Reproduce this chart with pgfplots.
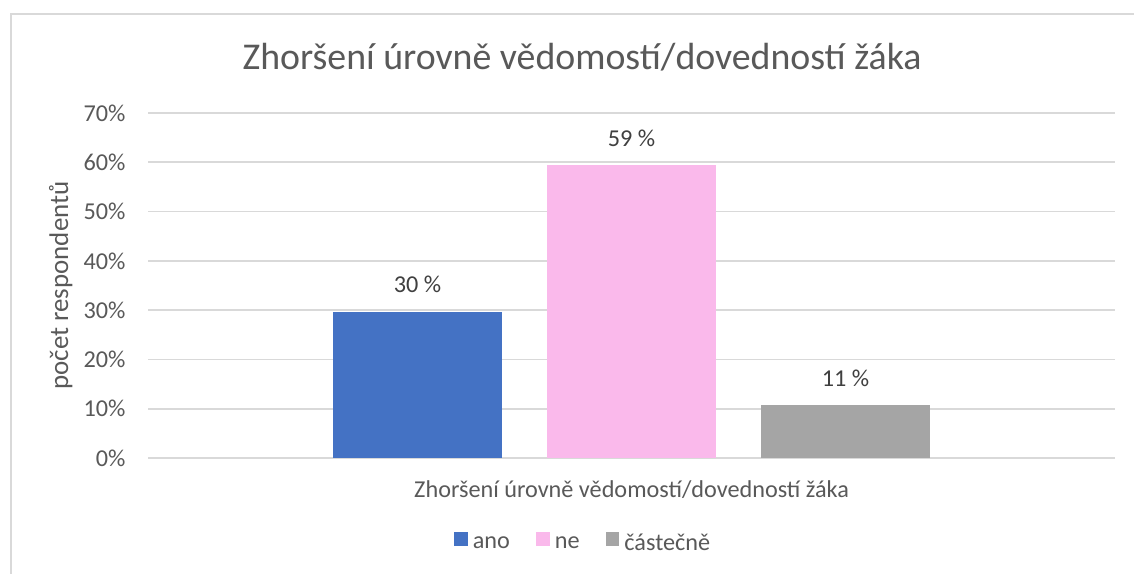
\documentclass[border=0pt]{standalone}
\usepackage{fontspec}
\setmainfont{Carlito}
\usepackage{pgfplots}
\pgfplotsset{compat=1.18}
\definecolor{cblue}{HTML}{4472C4}
\definecolor{cpink}{HTML}{FAB9EB}
\definecolor{cgray}{HTML}{A5A5A5}
\definecolor{gridc}{HTML}{D9D9D9}
\definecolor{txt}{HTML}{595959}
\definecolor{lbl}{HTML}{404040}
\begin{document}
\begin{tikzpicture}
\useasboundingbox (0,0) rectangle (437.7pt,221.2pt);
\fill[white] (0,0) rectangle (437.7pt,221.2pt);
\draw[gridc, line width=0.6pt] (4.25pt,-2pt) -- (4.25pt,215.8pt) -- (440pt,215.8pt);
\begin{axis}[
  at={(57.13pt,44.39pt)}, anchor=south west,
  scale only axis, width=373.3pt, height=133.2pt,
  /pgf/number format/assume math mode=true,
  ybar, bar width=0.79,
  xmin=-2.2595, xmax=2.2595, ymin=0, ymax=70,
  ytick={0,10,...,70},
  yticklabel={\pgfmathprintnumber{\tick}\%},
  xtick={0}, xticklabels={Zhoršení úrovně vědomostí/dovedností žáka},
  major tick length=0pt,
  axis line style={draw=none},
  ymajorgrids, grid style={gridc, line width=0.7pt},
  ticklabel style={font=\fontsize{9.35}{11}\selectfont, text=txt, inner sep=0pt},
  yticklabel style={anchor=east, xshift=-8.5pt},
  xticklabel style={anchor=base, yshift=-15.4pt},
  ylabel={počet respondentů},
  every axis y label/.style={at={(axis description cs:-0.0827,0.5)}, rotate=90, anchor=base, font=\fontsize{10.4}{12}\selectfont, text=txt},
  title={Zhoršení úrovně vědomostí/dovedností žáka},
  every axis title/.style={at={(axis description cs:0.4488,1.1246)}, anchor=base, font=\fontsize{14.6}{17}\selectfont, text=txt},
  legend columns=-1,
  legend style={at={(axis description cs:0.4488,-0.2478)}, anchor=center, draw=none, fill=none,
    inner sep=0pt, font=\fontsize{9.35}{11}\selectfont, text=txt,
    nodes={inner sep=0pt},
    /tikz/every odd column/.append style={column sep=1.9pt},
    /tikz/every even column/.append style={column sep=10pt}},
  legend image code/.code={\fill[#1] (0pt,-0.7pt) rectangle (5.4pt,4.7pt);},
  nodes near coords={\pgfmathprintnumber[fixed,precision=0]{\pgfplotspointmeta} \%},
  point meta=y,
  every node near coord/.append style={anchor=base, yshift=7.2pt, inner sep=0pt, font=\fontsize{9.35}{11}\selectfont, text=lbl},
]
\addplot[fill=cblue, draw=none, bar shift=0pt] coordinates {(-1,29.73)};
\addlegendentry{ano}
\addplot[fill=cpink, draw=none, bar shift=0pt] coordinates {(0,59.46)};
\addlegendentry{ne}
\addplot[fill=cgray, draw=none, bar shift=0pt] coordinates {(1,10.81)};
\addlegendentry{částečně}
\end{axis}
\end{tikzpicture}
\end{document}
